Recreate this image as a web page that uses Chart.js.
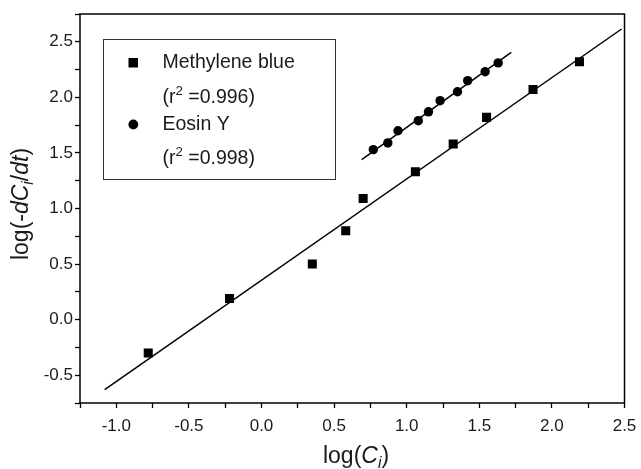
<!DOCTYPE html>
<html>
<head>
<meta charset="utf-8">
<script src="https://cdn.jsdelivr.net/npm/chart.js@4.4.0/dist/chart.umd.min.js"></script>
<style>
html, body { margin: 0; padding: 0; background: #fff; }
#wrap { width: 641px; height: 469px; position: relative; }
</style>
</head>
<body>
<div id="wrap"><canvas id="grafico"></canvas></div>
<script>
/* ═══════════════════════════════════════════
   log(-dCi/dt) vs log(Ci) — scatter + fits
═══════════════════════════════════════════ */

// ── Data ────────────────────────────────────
const mbX = [-0.78, -0.22, 0.35, 0.58, 0.70, 1.06, 1.32, 1.55, 1.87, 2.19];
const mbY = [-0.30, 0.19, 0.50, 0.80, 1.09, 1.33, 1.58, 1.82, 2.07, 2.32];
const eoX = [0.77, 0.87, 0.94, 1.08, 1.15, 1.23, 1.35, 1.42, 1.54, 1.63];
const eoY = [1.53, 1.59, 1.70, 1.79, 1.87, 1.97, 2.05, 2.15, 2.23, 2.31];

// fitted lines (end points)
const mbFitX = [-1.08, 2.48];
const mbFitY = [-0.63, 2.615];
const eoFitX = [0.69, 1.72];
const eoFitY = [1.44, 2.405];

const xTicks = [-1.0, -0.5, 0.0, 0.5, 1.0, 1.5, 2.0, 2.5];
const yTicks = [-0.5, 0.0, 0.5, 1.0, 1.5, 2.0, 2.5];
const seriesNames = ['Methylene blue', 'Eosin Y'];
const r2Values = ['0.996', '0.998'];

const FONT = '"Liberation Sans", Arial, Helvetica, sans-serif';
const INK = '#1a1a1a';

const pts = (xs, ys) => xs.map((x, i) => ({ x, y: ys[i] }));
const isMajor = (v, list) => list.some(t => Math.abs(t - v) < 1e-6);

// ── Helpers ─────────────────────────────────
// draws text made of segments: {t, it, sub, sup}
function richText(ctx, segs, x, y, size, align) {
    const fontOf = s => (s.it ? 'italic ' : '') + ((s.sub || s.sup) ? size * 0.68 : size) + 'px ' + FONT;
    let total = 0;
    segs.forEach(s => { ctx.font = fontOf(s); total += ctx.measureText(s.t).width; });
    let cx = align === 'center' ? x - total / 2 : x;
    ctx.textAlign = 'left';
    segs.forEach(s => {
        ctx.font = fontOf(s);
        let dy = 0;
        if (s.sub) dy = size * 0.22;
        if (s.sup) dy = -size * 0.34;
        ctx.fillText(s.t, cx, y + dy);
        cx += ctx.measureText(s.t).width;
    });
}

const framePlugin = {
    id: 'frame',
    afterDraw(chart) {
        const { ctx, chartArea: a } = chart;
        ctx.save();

        // box frame
        ctx.strokeStyle = '#000';
        ctx.lineWidth = 1.5;
        ctx.strokeRect(a.left, a.top, a.right - a.left, a.bottom - a.top);

        // axis titles
        ctx.fillStyle = INK;
        ctx.textBaseline = 'alphabetic';
        richText(ctx, [
            { t: 'log(' }, { t: 'C', it: true }, { t: 'i', it: true, sub: true }, { t: ')' }
        ], 356, 463, 23, 'center');

        ctx.save();
        ctx.translate(28, 204);
        ctx.rotate(-Math.PI / 2);
        richText(ctx, [
            { t: 'log(-' }, { t: 'dC', it: true }, { t: 'i', it: true, sub: true },
            { t: '/' }, { t: 'dt', it: true }, { t: ')' }
        ], 0, 0, 23, 'center');
        ctx.restore();

        // legend box
        ctx.strokeStyle = '#333';
        ctx.lineWidth = 1;
        ctx.strokeRect(103.5, 39.5, 232, 140);

        ctx.fillStyle = '#000';
        ctx.fillRect(128.5, 58, 9.5, 9.5);
        ctx.beginPath();
        ctx.arc(133.3, 124.5, 4.9, 0, Math.PI * 2);
        ctx.fill();

        ctx.fillStyle = INK;
        ctx.textBaseline = 'middle';
        const rows = [
            [seriesNames[0], 63], [r2Values[0], 98],
            [seriesNames[1], 125], [r2Values[1], 159]
        ];
        rows.forEach(([txt, y], i) => {
            if (i % 2 === 0) {
                richText(ctx, [{ t: txt }], 162.5, y, 19.5, 'left');
            } else {
                richText(ctx, [{ t: '(r' }, { t: '2', sup: true }, { t: ' =' + txt + ')' }], 162.5, y, 19.5, 'left');
            }
        });

        ctx.restore();
    }
};

// ── Chart ───────────────────────────────────
const ctx = document.getElementById('grafico').getContext('2d');

new Chart(ctx, {
    type: 'scatter',
    data: {
        datasets: [
            {
                label: seriesNames[0],
                data: pts(mbX, mbY),
                pointStyle: 'rect',
                pointRadius: 6.4,
                backgroundColor: '#000',
                borderColor: '#000',
                borderWidth: 0,
                showLine: false
            },
            {
                label: seriesNames[1],
                data: pts(eoX, eoY),
                pointStyle: 'circle',
                pointRadius: 4.7,
                backgroundColor: '#000',
                borderColor: '#000',
                borderWidth: 0,
                showLine: false
            },
            {
                label: 'fit MB',
                data: pts(mbFitX, mbFitY),
                showLine: true,
                borderColor: '#000',
                borderWidth: 1.5,
                pointRadius: 0
            },
            {
                label: 'fit EY',
                data: pts(eoFitX, eoFitY),
                showLine: true,
                borderColor: '#000',
                borderWidth: 1.5,
                pointRadius: 0
            }
        ]
    },
    options: {
        responsive: true,
        maintainAspectRatio: false,
        animation: false,
        layout: { padding: { top: 14, right: 16.5, left: 0, bottom: 0 } },
        plugins: {
            legend: { display: false },
            tooltip: { enabled: false }
        },
        scales: {
            x: {
                type: 'linear',
                min: -1.25,
                max: 2.5,
                afterFit: s => { s.height = 66; s.paddingLeft = 0; s.paddingRight = 0; },
                grid: { drawOnChartArea: false, drawTicks: true, tickLength: 5, tickColor: '#000', tickWidth: 1.3 },
                border: { display: false },
                ticks: {
                    stepSize: 0.25,
                    autoSkip: false,
                    maxRotation: 0,
                    padding: 8,
                    color: INK,
                    font: { family: FONT, size: 17 },
                    callback: v => isMajor(v, xTicks) ? v.toFixed(1) : ''
                }
            },
            y: {
                type: 'linear',
                min: -0.75,
                max: 2.75,
                afterFit: s => { s.width = 80; s.paddingTop = 0; s.paddingBottom = 0; },
                grid: { drawOnChartArea: false, drawTicks: true, tickLength: 5, tickColor: '#000', tickWidth: 1.3 },
                border: { display: false },
                ticks: {
                    stepSize: 0.25,
                    autoSkip: false,
                    padding: 2,
                    color: INK,
                    font: { family: FONT, size: 17 },
                    callback: v => isMajor(v, yTicks) ? v.toFixed(1) : ''
                }
            }
        }
    },
    plugins: [framePlugin]
});
</script>
</body>
</html>
